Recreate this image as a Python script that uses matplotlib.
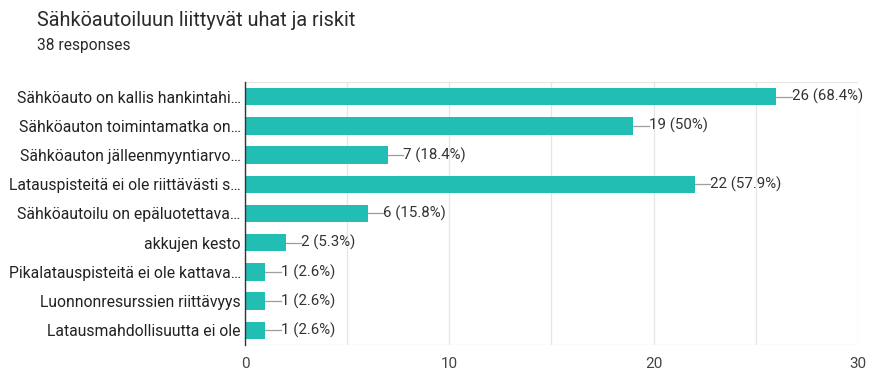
import matplotlib.pyplot as plt
from matplotlib.ticker import MultipleLocator

plt.rcParams['font.family'] = ['Roboto', 'DejaVu Sans']

categories = [
    "Sähköauto on kallis hankintahi…",
    "Sähköauton toimintamatka on…",
    "Sähköauton jälleenmyyntiarvo…",
    "Latauspisteitä ei ole riittävästi s…",
    "Sähköautoilu on epäluotettava…",
    "akkujen kesto",
    "Pikalatauspisteitä ei ole kattava…",
    "Luonnonresurssien riittävyys",
    "Latausmahdollisuutta ei ole",
]
counts = [26, 19, 7, 22, 6, 2, 1, 1, 1]
percents = ["68.4%", "50%", "18.4%", "57.9%", "15.8%", "5.3%", "2.6%", "2.6%", "2.6%"]
x_ticks = [0, 10, 20, 30]

bar_color = "#22bdb3"

fig = plt.figure(figsize=(8.7, 3.72), dpi=100)
ax = fig.add_axes([0.2816, 0.0726, 0.7046, 0.707])

y = list(range(len(categories)))
ax.barh(y, counts, height=0.6, color=bar_color, zorder=3)

# value labels with a short leader line
for yi, c, p in zip(y, counts, percents):
    ax.plot([c, c + 0.75], [yi, yi], color="#9e9e9e", lw=0.9, zorder=3)
    ax.text(c + 0.75, yi, f"{c} ({p})", va="center", ha="left",
            fontsize=10.8, color="#333333", zorder=4)

ax.set_xlim(0, 30)
ax.set_ylim(len(categories) - 0.5, -0.5)
ax.set_yticks(y)
ax.set_yticklabels(categories, fontsize=11.3, color="#222222")
ax.set_xticks(x_ticks)
ax.xaxis.set_minor_locator(MultipleLocator(5))
ax.tick_params(axis="x", labelsize=11, colors="#444444", length=0, pad=9, which="both")
ax.tick_params(axis="y", length=0, pad=3)

# light frame lines top and bottom, plus vertical grid every 5
ax.grid(axis="x", which="both", color="#e6e6e6", lw=0.9, zorder=0)
for side in ["top", "right", "bottom"]:
    ax.spines[side].set_visible(False)
ax.spines["left"].set_color("#333333")
ax.spines["left"].set_linewidth(1.0)
ax.spines["left"].set_zorder(5)
ax.axhline(len(categories) - 0.5, color="#e6e6e6", lw=0.9, zorder=0)
ax.axhline(-0.5, color="#e6e6e6", lw=0.9, zorder=0)

fig.text(0.0425, 0.945, "Sähköautoiluun liittyvät uhat ja riskit",
         fontsize=14.3, color="#2a2a2a", va="center", ha="left")
fig.text(0.0425, 0.877, "38 responses", fontsize=11.2, color="#2a2a2a",
         va="center", ha="left")

fig.savefig("out.png", dpi=100, facecolor="white")
